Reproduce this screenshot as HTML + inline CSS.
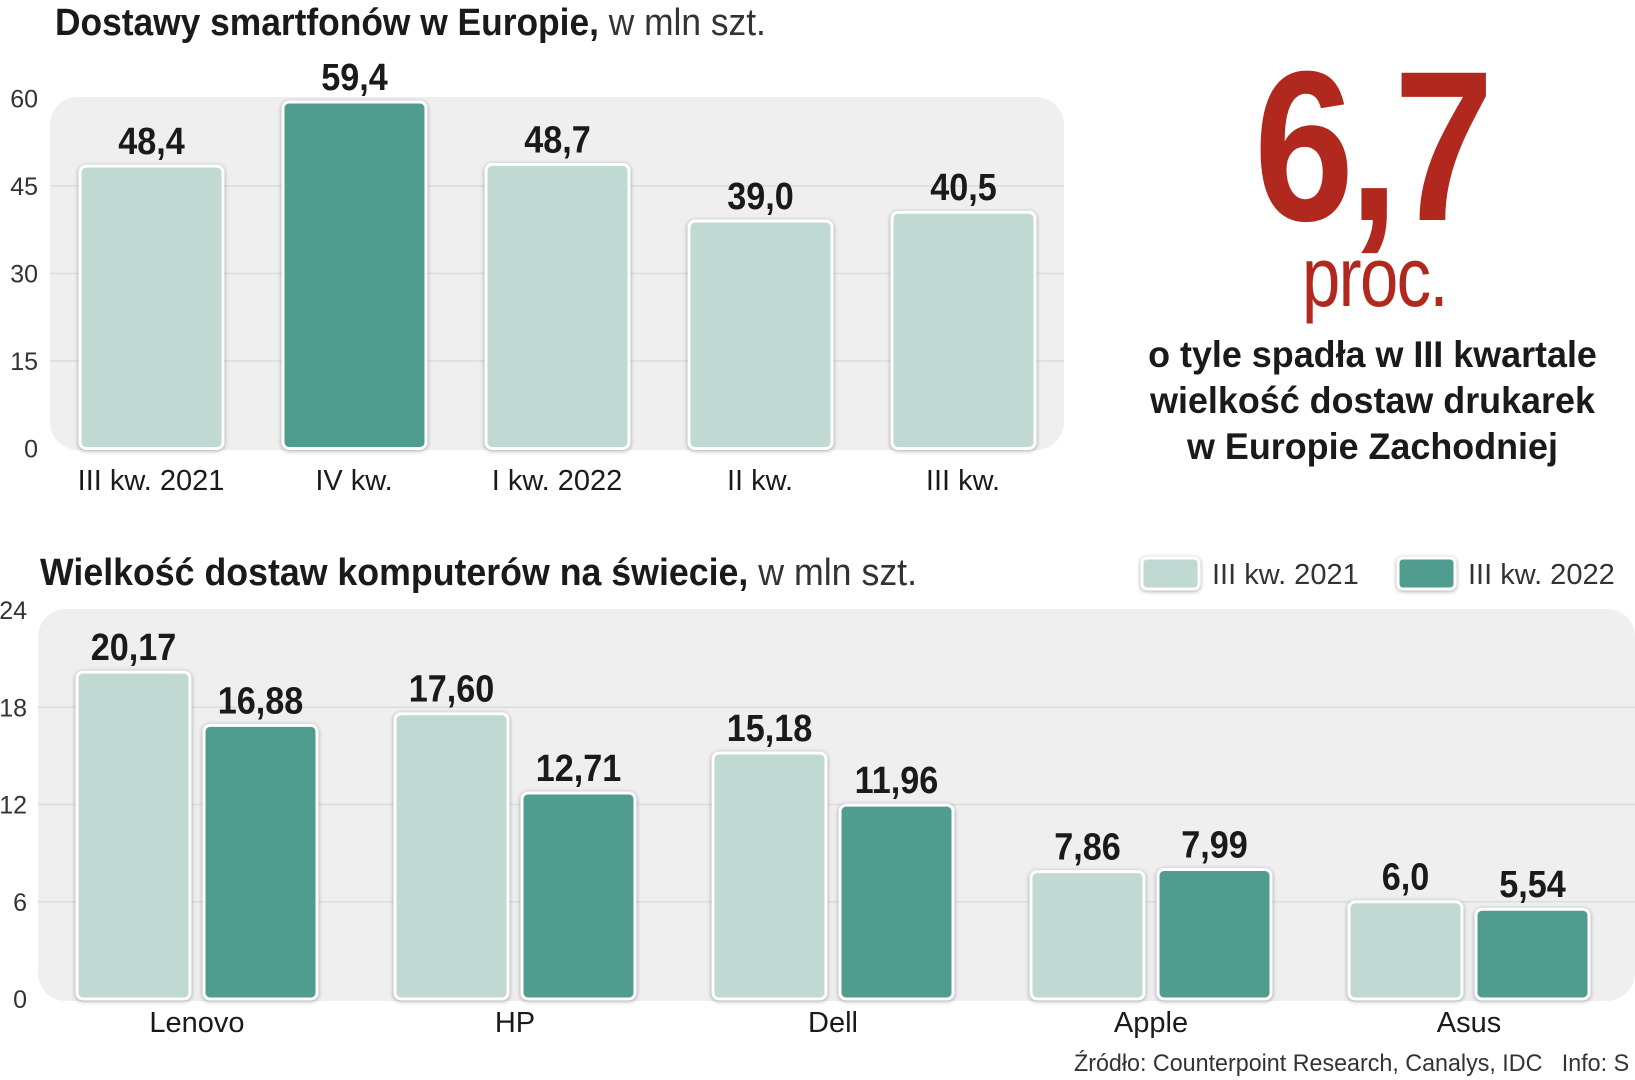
<!DOCTYPE html>
<html><head><meta charset="utf-8"><style>
body{margin:0;width:1635px;height:1080px;background:#fff;overflow:hidden;position:relative;font-family:"Liberation Sans",sans-serif;color:#1a1a1a}
.t{position:absolute;white-space:nowrap}
</style></head><body>
<div class="t" style="left:55px;top:2px;font-size:38px;font-weight:bold;transform:scaleX(0.93);transform-origin:0 0">Dostawy smartfonów w Europie,<span style="font-weight:normal;color:#333"> w mln szt.</span></div>
<div class="t" style="left:40px;top:552px;font-size:38px;font-weight:bold;transform:scaleX(0.94);transform-origin:0 0">Wielkość dostaw komputerów na świecie,<span style="font-weight:normal;color:#333"> w mln szt.</span></div>
<div class="t" style="left:1254px;top:40px;font-size:214px;font-weight:bold;color:#b0281e;letter-spacing:-6px;line-height:214px;transform:scaleX(0.84);transform-origin:0 0">6,7</div>
<div class="t" style="left:1302px;top:232px;font-size:84px;color:#b0281e;line-height:90px;letter-spacing:-2px;transform:scaleX(0.82);transform-origin:0 0">proc.</div>
<div class="t" style="left:1100px;width:545px;top:332px;font-size:37px;font-weight:bold;text-align:center;line-height:46px;white-space:normal;transform:scaleX(0.97);transform-origin:50% 0">o tyle spadła w III kwartale<br>wielkość dostaw drukarek<br>w Europie Zachodniej</div>
<div class="t" style="left:1074px;top:1050px;font-size:24px;color:#333;transform:scaleX(0.97);transform-origin:0 0">Źródło: Counterpoint Research, Canalys, IDC &nbsp; Info: S</div>
<svg id="c1" width="1635" height="1080" style="position:absolute;left:0;top:0"></svg>
<script>
const cats1=["III kw. 2021","IV kw.","I kw. 2022","II kw.","III kw."];
const vals1=[48.4,59.4,48.7,39.0,40.5];
const labs1=["48,4","59,4","48,7","39,0","40,5"];
const ticks1=[0,15,30,45,60];
const cats2=["Lenovo","HP","Dell","Apple","Asus"];
const vals2021=[20.17,17.60,15.18,7.86,6.0];
const vals2022=[16.88,12.71,11.96,7.99,5.54];
const labs2021=["20,17","17,60","15,18","7,86","6,0"];
const labs2022=["16,88","12,71","11,96","7,99","5,54"];
const ticks2=[0,6,12,18,24];
const legend=["III kw. 2021","III kw. 2022"];
const LIGHT="#c0d9d3",DARK="#509d8f";
const svg=document.getElementById('c1');const NS="http://www.w3.org/2000/svg";
function mk(t,a,p){const e=document.createElementNS(NS,t);for(const k in a)e.setAttribute(k,a[k]);(p||svg).appendChild(e);return e;}
const y1=v=>448.5-v*(350/60), x1=i=>80+i*203;
const y2=v=>999-v*(389/24), x2=(i,s)=>77+i*318+s*127;
const p1=mk('rect',{x:50,y:97,width:1014,height:353,rx:28,fill:'#efefef'});


const p2=mk('rect',{x:38,y:609,width:1597,height:392,rx:28,fill:'#efefef'});


ticks1.forEach(v=>{
 if(v>0&&v<60){const g=mk('line',{x1:50,x2:1064,y1:y1(v),y2:y1(v),stroke:'#dcdcdc','stroke-width':1.5});
 
 }
 const t=mk('text',{x:38,y:y1(v)+9,'text-anchor':'end','font-size':25,fill:'#333'});t.textContent=v;
 
 
});
ticks2.forEach(v=>{
 if(v>0&&v<24){const g=mk('line',{x1:38,x2:1635,y1:y2(v),y2:y2(v),stroke:'#dcdcdc','stroke-width':1.5});
 
 }
 const t=mk('text',{x:27,y:y2(v)+9,'text-anchor':'end','font-size':25,fill:'#333'});t.textContent=v;
 
 
});
function bar(x,w,v,yf,col,lab,name){
 const r=mk('rect',{x:x,y:yf(v),width:w,height:yf(0)-yf(v),rx:6,fill:col,stroke:'#fff','stroke-width':3,style:'filter:drop-shadow(0 1px 2px rgba(0,0,0,.35))'});
 
 
 const cx=x+w/2;
 const t=mk('text',{x:cx,y:yf(v)-12,'text-anchor':'middle','font-size':38,'font-weight':'bold',fill:'#1a1a1a',transform:`translate(${cx},0) scale(0.9,1) translate(${-cx},0)`});t.textContent=lab;
 
 
}
cats1.forEach((c,i)=>{
 bar(x1(i),143,vals1[i],y1,i==1?DARK:LIGHT,labs1[i],'bar-'+i);
 const t=mk('text',{x:x1(i)+71,y:490,'text-anchor':'middle','font-size':29,fill:'#1a1a1a'});t.textContent=c;
 
 
});
cats2.forEach((c,i)=>{
 bar(x2(i,0),113,vals2021[i],y2,LIGHT,labs2021[i],'bar-2021-'+c.toLowerCase());
 bar(x2(i,1),113,vals2022[i],y2,DARK,labs2022[i],'bar-2022-'+c.toLowerCase());
 const t=mk('text',{x:x2(i,0)+120,y:1032,'text-anchor':'middle','font-size':29,fill:'#1a1a1a'});t.textContent=c;
 
 
});
legend.forEach((l,i)=>{
 const bx=i?1398:1142;
 const r=mk('rect',{x:bx,y:558,width:57,height:31,rx:5,fill:i?DARK:LIGHT,stroke:'#fff','stroke-width':3,style:'filter:drop-shadow(0 1px 2px rgba(0,0,0,.35))'});
 
 
 const t=mk('text',{x:bx+70,y:584,'font-size':29,fill:'#333'});t.textContent=l;
 
 
});
</script>
</body></html>
